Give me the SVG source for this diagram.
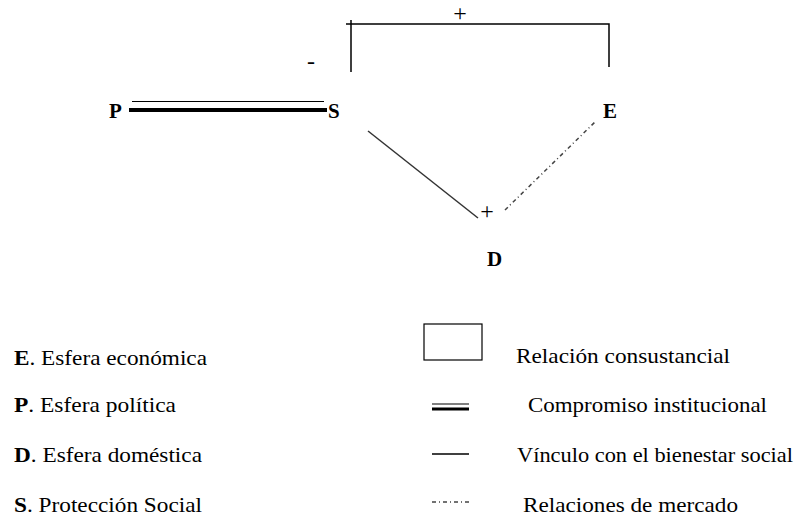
<svg xmlns="http://www.w3.org/2000/svg" width="806" height="517" viewBox="0 0 806 517">
<style type="text/css">
.solid{stroke:#333;stroke-width:1.5;fill:none}
.bracket{stroke:#000;stroke-width:1.5;fill:none}
.thin{stroke:#000;stroke-width:1.2}
.thick{stroke:#000;stroke-width:4}
.dashdot{stroke:#444;stroke-width:1.5;stroke-dasharray:4 3 1 3;fill:none}
</style>
<rect width="806" height="517" fill="#fff"/>
<g id="connectors">
  <path class="bracket" d="M346 24 H609 V67 M351 20 V72"/>
  <line class="thin" x1="132" y1="101.5" x2="324" y2="101.5"/>
  <line class="thick" x1="129" y1="110" x2="327" y2="110"/>
  <line class="solid" x1="368" y1="131" x2="478" y2="218"/>
  <line class="dashdot" x1="505" y1="210" x2="596" y2="121"/>
  <g font-family="Times New Roman, Liberation Serif, DejaVu Serif, serif" font-size="24" fill="#000" text-anchor="middle">
    <text x="460" y="21">+</text>
    <text x="311" y="69">-</text>
    <text x="487" y="219">+</text>
  </g>
</g>
<g font-family="Times New Roman, Liberation Serif, DejaVu Serif, serif" font-size="21" font-weight="bold" fill="#000">
  <g id="node-P"><text x="109" y="118">P</text></g>
  <g id="node-S"><text x="328" y="118">S</text></g>
  <g id="node-E"><text x="603" y="118">E</text></g>
  <g id="node-D"><text x="487" y="266">D</text></g>
</g>
<g id="legend">
  <g font-family="Times New Roman, Liberation Serif, DejaVu Serif, serif" font-size="21" fill="#000">
  <text x="14" y="365" textLength="193" lengthAdjust="spacingAndGlyphs"><tspan font-weight="bold">E</tspan>. Esfera económica</text>
  <text x="14" y="412" textLength="162" lengthAdjust="spacingAndGlyphs"><tspan font-weight="bold">P</tspan>. Esfera política</text>
  <text x="14" y="462" textLength="188" lengthAdjust="spacingAndGlyphs"><tspan font-weight="bold">D</tspan>. Esfera doméstica</text>
  <text x="14" y="512" textLength="188" lengthAdjust="spacingAndGlyphs"><tspan font-weight="bold">S</tspan>. Protección Social</text>
  <text x="516" y="363" textLength="214" lengthAdjust="spacingAndGlyphs">Relación consustancial</text>
  <text x="528" y="412" textLength="239" lengthAdjust="spacingAndGlyphs">Compromiso institucional</text>
  <text x="517" y="462" textLength="276" lengthAdjust="spacingAndGlyphs">Vínculo con el bienestar social</text>
  <text x="523" y="512" textLength="215" lengthAdjust="spacingAndGlyphs">Relaciones de mercado</text>
  </g>
  <rect x="424" y="324" width="58" height="36" fill="none" stroke="#000" stroke-width="1.2"/>
  <line class="thin" x1="432" y1="404" x2="469" y2="404"/>
  <line x1="432" y1="409" x2="469" y2="409" stroke="#000" stroke-width="3"/>
  <line x1="432" y1="454" x2="469" y2="454" stroke="#000" stroke-width="1.3"/>
  <line class="dashdot" x1="432" y1="502" x2="469" y2="502"/>
</g>
</svg>
